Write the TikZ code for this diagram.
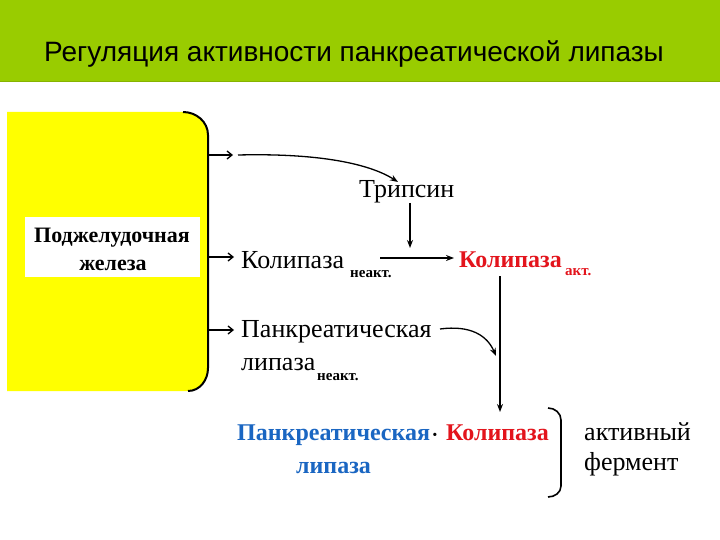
\documentclass[tikz,border=0pt]{standalone}
\usepackage{fontspec}
\setmainfont{Liberation Serif}
\newfontfamily\titlefont{Liberation Sans}
\usetikzlibrary{arrows.meta}
\definecolor{hdrgreen}{HTML}{99CC00}
\definecolor{hdrline}{HTML}{86B300}
\definecolor{glandyellow}{HTML}{FFFF00}
\definecolor{actred}{HTML}{E3141C}
\definecolor{lipblue}{HTML}{1A66C2}
\tikzset{
  txt/.style={inner sep=0pt, anchor=base west, font=\fontsize{26}{30}\selectfont},
  boldtxt/.style={inner sep=0pt, anchor=base west, font=\fontsize{24}{28}\selectfont\bfseries},
  subtxt/.style={inner sep=0pt, anchor=base west, font=\fontsize{15}{17}\selectfont\bfseries},
  conn/.style={line width=1.3pt, -{Stealth[length=8pt,width=6pt]}},
  short/.style={line width=1.3pt, -{Straight Barb[length=5pt,width=8pt]}},
}
\begin{document}
\begin{tikzpicture}[x=1pt,y=-1pt]
\useasboundingbox (0,0) rectangle (720,540);
\fill[white] (0,0) rectangle (720,540);
% header
\fill[hdrgreen] (0,0) rectangle (720,82);
\draw[hdrline, line width=1pt] (0,82) -- (720,82);
\node[inner sep=0pt, anchor=base west, font=\titlefont\fontsize{28}{32}\selectfont] (title) at (44,62) {Регуляция активности панкреатической липазы};
% gland
\fill[glandyellow] (7,112) -- (185,112) to[out=0,in=90] (208,135) -- (208,368) to[out=-90,in=0] (188,391) -- (7,391) -- cycle;
\draw[line width=2pt] (183,112) to[out=0,in=90] (208,135) -- (208,368) to[out=-90,in=0] (188,391);
\fill[white] (25,217) rectangle (200,277);
\node[inner sep=0pt, anchor=base, font=\fontsize{22}{26}\selectfont\bfseries] (gland1) at (112,242) {Поджелудочная};
\node[inner sep=0pt, anchor=base, font=\fontsize{22}{26}\selectfont\bfseries] (gland2) at (113,270) {железа};
\coordinate (g1) at (208,155);
\coordinate (g2) at (208,257);
\coordinate (g3) at (208,330);
\coordinate (g1e) at (233,155);
\coordinate (g2e) at (234,257);
\coordinate (g3e) at (234,330);
\draw[short] (g1) -- (g1e);
\draw[short] (g2) -- (g2e);
\draw[short] (g3) -- (g3e);
% texts
\node[txt] (tryp) at (359,198) {Трипсин};
\node[txt] (colin) at (241,268) {Колипаза};
\node[subtxt] (colinsub) at (350,277) {неакт.};
\node[boldtxt, text=actred] (colact) at (459,267) {Колипаза};
\node[subtxt, text=actred] (colactsub) at (565,275) {акт.};
\node[txt] (pl1) at (241,337) {Панкреатическая};
\node[txt] (pl2) at (241,370) {липаза};
\node[subtxt] (pl2sub) at (317,380) {неакт.};
\node[boldtxt, text=lipblue] (bl1) at (237,440) {Панкреатическая};
\node[boldtxt, text=lipblue] (bl2) at (296,473) {липаза};
\node[inner sep=0pt, font=\fontsize{20}{24}\selectfont\bfseries] (dot) at (435,437) {·};
\node[boldtxt, text=actred] (bc) at (446,440) {Колипаза};
\node[txt] (ae1) at (584,440) {активный};
\node[txt] (ae2) at (584,470) {фермент};
% connectors
\coordinate (c1s) at (238,155);
\coordinate (c1e) at (398,182);
\draw[conn] (c1s) .. controls (320,153) and (370,164) .. (c1e);
\coordinate (t1) at (410,203);
\coordinate (t2) at (410,248);
\draw[conn] (t1) -- (t2);
\coordinate (k1) at (380,258);
\coordinate (k2) at (454,258);
\draw[conn] (k1) -- (k2);
\coordinate (v1) at (500,276);
\coordinate (v2) at (500,412);
\draw[conn] (v1) -- (v2);
\coordinate (p1) at (440,329);
\coordinate (p2) at (496,356);
\draw[conn] (p1) .. controls (470,325) and (487,335) .. (p2);
% brace
\draw[line width=1.6pt] (548,408) to[out=0,in=90] (561,420) -- (561,486) to[out=-90,in=0] (548,497);
\end{tikzpicture}
\end{document}
